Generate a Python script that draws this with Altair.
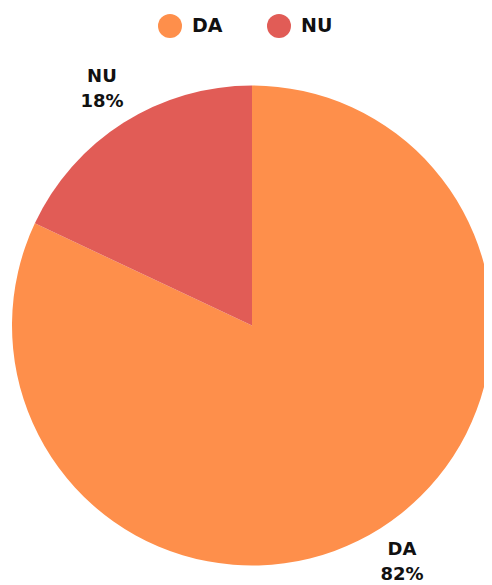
import altair as alt
import pandas as pd

categories = ["DA", "NU"]
values = [82, 18]
colors = ["#fe8f4b", "#e15c56"]

df = pd.DataFrame({"cat": categories, "val": values})
df["label"] = [f"{c}\n{v}%" for c, v in zip(categories, values)]

cx, cy = 244, 317.5

base = alt.Chart(df).encode(
    theta=alt.Theta("val:Q", stack=True),
    color=alt.Color(
        "cat:N",
        scale=alt.Scale(domain=categories, range=colors),
        sort=categories,
        legend=alt.Legend(
            title=None,
            orient="none",
            direction="horizontal",
            legendX=150,
            legendY=6,
            symbolType="circle",
            symbolSize=576,
            symbolStrokeWidth=0,
            labelFont="DejaVu Sans",
            labelFontSize=19,
            labelFontWeight="bold",
            labelColor="#111111",
            labelOffset=10,
            columnPadding=44,
            padding=0,
        ),
    ),
    order=alt.Order("cat:N", sort="ascending"),
)

pie = base.mark_arc(radius=240, stroke=None).encode(
    x=alt.value(cx), y=alt.value(cy)
)

text = base.mark_text(
    radius=280,
    dy=-12,
    font="DejaVu Sans",
    fontSize=18,
    fontWeight="bold",
    lineBreak="\n",
    lineHeight=25,
    color="#111111",
).encode(
    x=alt.value(cx),
    y=alt.value(cy),
    text="label:N",
    color=alt.value("#111111"),
)

chart = (
    alt.layer(pie, text)
    .properties(width=476, height=577, autosize=alt.AutoSizeParams(type="none"), padding=0)
    .configure_view(stroke=None)
)

chart.save("out.html", embed_options={"renderer": "svg", "actions": False})
